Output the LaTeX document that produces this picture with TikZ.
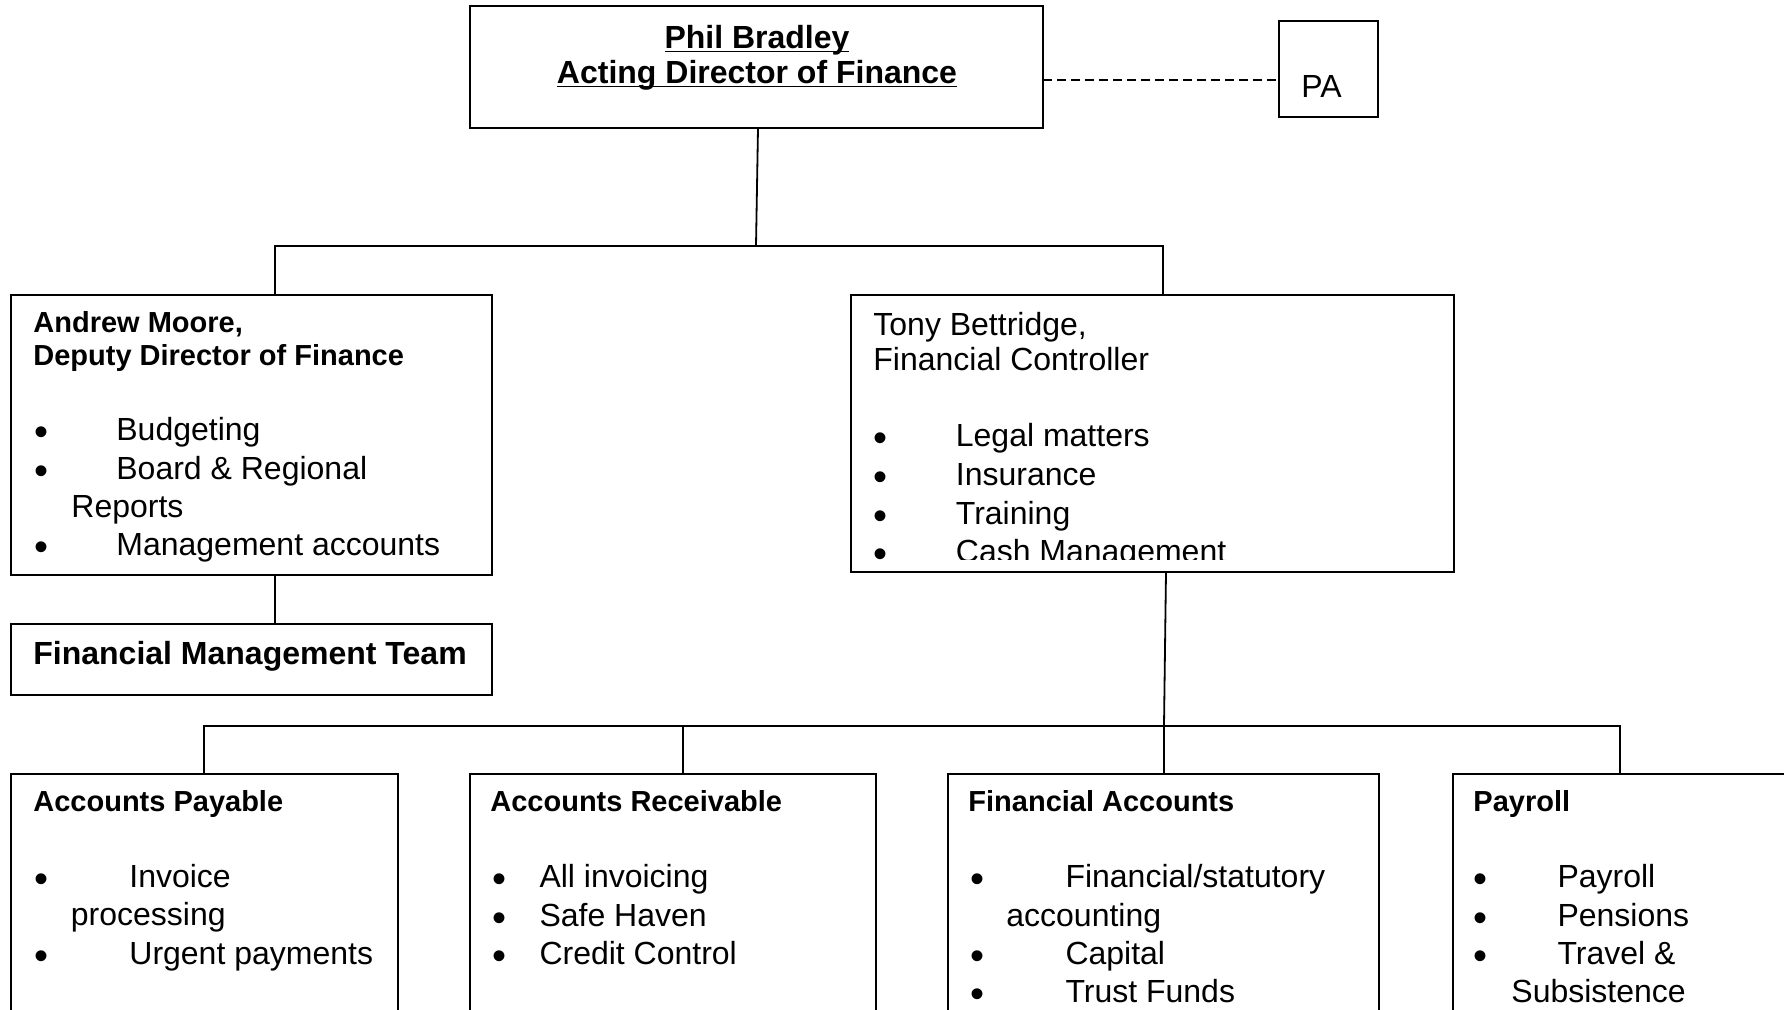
\documentclass[tikz,border=0pt]{standalone}
\usepackage{graphicx}
\usepackage{fontspec}
\setmainfont{Liberation Sans}
\newcommand\bul[1]{\makebox[#1][l]{\raisebox{-2.5pt}{\scalebox{1.25}{\textbullet}}}}
\newcommand\ulx[1]{\underline{\smash{#1}}}
\tikzset{
  box/.style={draw, line width=1pt, inner sep=0pt, outer sep=0pt, anchor=north west},
  hdr/.style={anchor=base west, inner sep=0pt, font=\fontsize{14.5}{17}\selectfont\bfseries},
  itm/.style={anchor=base west, inner sep=0pt, font=\fontsize{16}{19.3}\selectfont},
  ttl/.style={anchor=base, inner sep=0pt, font=\fontsize{16}{17}\selectfont\bfseries},
  conn/.style={line width=0.9pt},
  dconn/.style={line width=0.7pt, dash pattern=on 4.5pt off 2.5pt}
}
\begin{document}
\begin{tikzpicture}[x=0.5pt,y=-0.5pt]
\useasboundingbox (0,0) rectangle (1784,1010);
\clip (0,0) rectangle (1784,1010);
\fill[white] (0,0) rectangle (1784,1010);

% boxes
\node[box, minimum width=286.5pt, minimum height=61pt] (phil) at (470,6) {};
\node[box, minimum width=49.5pt, minimum height=48pt] (pa) at (1279,21) {};
\node[box, minimum width=240.5pt, minimum height=140pt] (andrew) at (11,295) {};
\node[box, minimum width=301.5pt, minimum height=138.5pt] (tony) at (851,295) {};
\node[box, minimum width=240.5pt, minimum height=35.5pt] (fmt) at (11,624) {};
\node[box, minimum width=193.5pt, minimum height=150pt] (ap) at (11,774) {};
\node[box, minimum width=203pt, minimum height=150pt] (ar) at (470,774) {};
\node[box, minimum width=215.5pt, minimum height=150pt] (fa) at (948,774) {};
\node[box, minimum width=200pt, minimum height=150pt] (pay) at (1453,774) {};

% connectors
\coordinate (b1L) at (275,246);
\coordinate (b1R) at (1163,246);
\coordinate (b2L) at (204,726);
\coordinate (b2R) at (1620,726);
\coordinate (c2) at (683,726);
\coordinate (c3) at (1164,726);
\coordinate (dy) at (1100,80);
\draw[conn] ([xshift=0.75pt]phil.south) -- ([xshift=-0.25pt]phil.south |- b1L);
\draw[conn] (andrew.north -| b1L) |- (b1R) -- (tony.north -| b1R);
\draw[conn] (andrew.south -| b1L) -- (fmt.north -| b1L);
\draw[conn] ([xshift=1pt]tony.south -| c3) -- (c3);
\draw[conn] (ap.north -| b2L) |- (b2R) -- (pay.north -| b2R);
\draw[conn] (c2) -- (ar.north -| c2);
\draw[conn] (c3) -- (fa.north -| c3);
\draw[dconn] (phil.east |- dy) -- (pa.west |- dy);

% top
\node[ttl] (t1) at (757,49) {\ulx{Phil Bradley}};
\node[ttl] (t2) at (757,84) {\ulx{Acting Director of Finance}};
\node[itm] (tpa) at (1301,98) {PA};

% Andrew
\node[hdr] (a1) at (33,333) {Andrew Moore,};
\node[hdr] (a2) at (33,366) {Deputy Director of Finance};
\node[itm] (a3) at (34,441) {\bul{41pt}Budgeting};
\node[itm] (a4) at (34,480) {\bul{41pt}Board \& Regional};
\node[itm] (a5) at (71,517) {Reports};
\node[itm] (a6) at (34,556) {\bul{41pt}Management accounts};

% FMT
\node[itm, font=\fontsize{16}{19.3}\selectfont\bfseries] (f1) at (33,664) {Financial Management Team};

% Tony
\node[itm] (tb1) at (873,336) {Tony Bettridge,};
\node[itm] (tb2) at (873,371) {Financial Controller};
\begin{scope}
\clip (851,295) rectangle (1454,560);
\node[itm] (tb3) at (873.5,447) {\bul{41pt}Legal matters};
\node[itm] (tb4) at (873.5,486) {\bul{41pt}Insurance};
\node[itm] (tb5) at (873.5,524) {\bul{41pt}Training};
\node[itm] (tb6) at (873.5,563) {\bul{41pt}Cash Management};
\end{scope}

% Accounts Payable
\node[hdr] (p1) at (33,811) {Accounts Payable};
\node[itm] (p2) at (34,887) {\bul{47.5pt}Invoice};
\node[itm] (p3) at (70.5,925) {processing};
\node[itm] (p4) at (34,964) {\bul{47.5pt}Urgent payments};

% Accounts Receivable
\node[hdr] (r1) at (490,811) {Accounts Receivable};
\node[itm] (r2) at (492.5,887) {\bul{23.3pt}All invoicing};
\node[itm] (r3) at (492.5,926) {\bul{23.3pt}Safe Haven};
\node[itm] (r4) at (492.5,964) {\bul{23.3pt}Credit Control};

% Financial Accounts
\node[hdr] (q1) at (968,811) {Financial Accounts};
\node[itm] (q2) at (970.5,887) {\bul{47.3pt}Financial/statutory};
\node[itm] (q3) at (1006,926) {accounting};
\node[itm] (q4) at (970.5,964) {\bul{47.3pt}Capital};
\node[itm] (q5) at (970.5,1002) {\bul{47.3pt}Trust Funds};

% Payroll
\node[hdr] (y1) at (1473,811) {Payroll};
\node[itm] (y2) at (1473.5,887) {\bul{41.8pt}Payroll};
\node[itm] (y3) at (1473.5,926) {\bul{41.8pt}Pensions};
\node[itm] (y4) at (1473.5,964) {\bul{41.8pt}Travel \&};
\node[itm] (y5) at (1511,1002) {Subsistence};
\end{tikzpicture}
\end{document}
